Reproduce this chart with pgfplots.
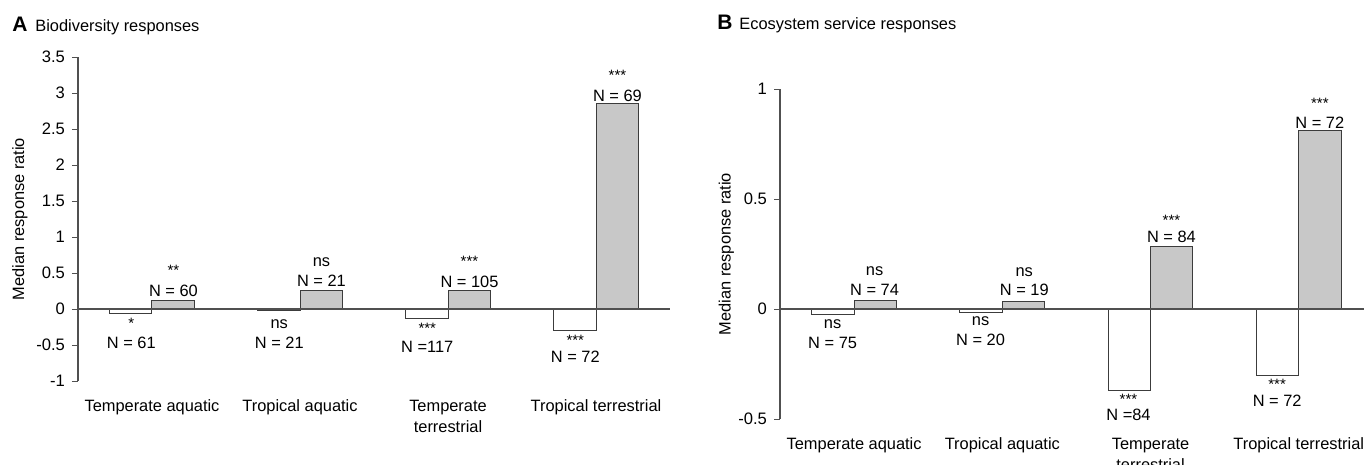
\documentclass[border=0pt]{standalone}
\usepackage{fontspec}
\setmainfont{Liberation Sans}
\usepackage{pgfplots}
\usepackage{pgfplotstable}
\pgfplotsset{compat=1.18}
\definecolor{barg}{RGB}{200,200,200}
\definecolor{edge}{RGB}{60,60,60}
\definecolor{axc}{RGB}{80,80,80}

\pgfplotstableread{
x white gray
0 -0.06 0.12
1 -0.02 0.26
2 -0.13 0.26
3 -0.30 2.85
}\dataA
\pgfplotstableread{
x white gray
0 -0.027 0.04
1 -0.018 0.032
2 -0.37 0.283
3 -0.30 0.81
}\dataB

\tikzset{
 nl/.style={font=\fontsize{8.2}{10}\selectfont, inner sep=0pt},
 st/.style={font=\fontsize{7.5}{9}\selectfont, inner sep=0pt, yshift=-1.5pt},
}

\begin{document}
\begin{tikzpicture}
\useasboundingbox (0pt,0pt) rectangle (682pt,-232.5pt);
\pgfplotsset{
 myaxis/.style={
  scale only axis, clip=false,
  axis y line*=left, axis x line*=bottom,
  x axis line style={draw=none},
  xtick={0,1,2,3},
  xticklabels={Temperate aquatic, Tropical aquatic, {Temperate\\terrestrial}, Tropical terrestrial},
  xtick style={draw=none},
  xticklabel style={align=center, font=\fontsize{8.2}{10.5}\selectfont, anchor=north, yshift=-3pt},
  ytick style={axc, line width=0.5pt}, tick align=outside, major tick length=3pt,
  y axis line style={axc, line width=0.6pt},
  yticklabel style={font=\fontsize{8.3}{10}\selectfont},
  /pgf/number format/assume math mode=true,
  ylabel={Median response ratio},
  ylabel style={font=\fontsize{8.2}{10}\selectfont, anchor=center},
 },
 wbar/.style={ybar, bar width=21.2pt, bar shift=-10.6pt, fill=white, draw=edge, line width=0.5pt},
 gbar/.style={ybar, bar width=21.2pt, bar shift=10.6pt, fill=barg, draw=edge, line width=0.5pt},
}
% titles
\node[anchor=base west, inner sep=0pt, font=\fontsize{10.5}{12}\selectfont\bfseries] at (6pt,-16pt) {A};
\node[anchor=base west, inner sep=0pt, font=\fontsize{8.2}{10}\selectfont] at (17.5pt,-16pt) {Biodiversity responses};
\node[anchor=base west, inner sep=0pt, font=\fontsize{10.5}{12}\selectfont\bfseries] at (358.5pt,-15pt) {B};
\node[anchor=base west, inner sep=0pt, font=\fontsize{8.2}{10}\selectfont] at (369.5pt,-15pt) {Ecosystem service responses};

\begin{axis}[myaxis,
  at={(39pt,-190.5pt)}, anchor=south west, width=296pt, height=162pt,
  xmin=-0.5, xmax=3.5, ymin=-1, ymax=3.5,
  ytick={-1,-0.5,0,0.5,1,1.5,2,2.5,3,3.5},
  yticklabels={-1,-0.5,0,0.5,1,1.5,2,2.5,3,3.5},
  ylabel style={at={(axis description cs:-0.098,0.5)}},
]
\addplot[wbar] table[x=x,y=white]{\dataA};
\addplot[gbar] table[x=x,y=gray]{\dataA};
\draw[axc, line width=0.6pt] (axis cs:-0.5,0) -- (axis cs:3.5,0);
\node[st] at (axis cs:0.145,0.583) {**};
\node[nl] at (axis cs:0.145,0.25) {N = 60};
\node[st] at (axis cs:-0.14,-0.153) {*};
\node[nl] at (axis cs:-0.14,-0.472) {N = 61};
\node[nl] at (axis cs:1.145,0.653) {ns};
\node[nl] at (axis cs:1.145,0.389) {N = 21};
\node[nl] at (axis cs:0.86,-0.208) {ns};
\node[nl] at (axis cs:0.86,-0.472) {N = 21};
\node[st] at (axis cs:2.145,0.708) {***};
\node[nl] at (axis cs:2.145,0.375) {N = 105};
\node[st] at (axis cs:1.86,-0.222) {***};
\node[nl] at (axis cs:1.86,-0.528) {N =117};
\node[st] at (axis cs:3.145,3.282) {***};
\node[nl] at (axis cs:3.145,2.958) {N = 69};
\node[st] at (axis cs:2.86,-0.389) {***};
\node[nl] at (axis cs:2.86,-0.667) {N = 72};
\end{axis}

\begin{axis}[myaxis,
  at={(390pt,-209.5pt)}, anchor=south west, width=292pt, height=165pt,
  xmin=-0.5, xmax=3.44, ymin=-0.5, ymax=1,
  ytick={-0.5,0,0.5,1},
  yticklabels={-0.5,0,0.5,1},
  ylabel style={at={(axis description cs:-0.092,0.5)}},
]
\addplot[wbar] table[x=x,y=white]{\dataB};
\addplot[gbar] table[x=x,y=gray]{\dataB};
\draw[axc, line width=0.6pt] (axis cs:-0.5,0) -- (axis cs:3.44,0);
\node[nl] at (axis cs:0.138,0.17) {ns};
\node[nl] at (axis cs:0.138,0.086) {N = 74};
\node[nl] at (axis cs:-0.145,-0.068) {ns};
\node[nl] at (axis cs:-0.145,-0.155) {N = 75};
\node[nl] at (axis cs:1.148,0.168) {ns};
\node[nl] at (axis cs:1.148,0.086) {N = 19};
\node[nl] at (axis cs:0.853,-0.055) {ns};
\node[nl] at (axis cs:0.853,-0.141) {N = 20};
\node[st] at (axis cs:2.141,0.418) {***};
\node[nl] at (axis cs:2.141,0.327) {N = 84};
\node[st] at (axis cs:1.851,-0.399) {***};
\node[nl] at (axis cs:1.851,-0.482) {N =84};
\node[st] at (axis cs:3.142,0.947) {***};
\node[nl] at (axis cs:3.142,0.847) {N = 72};
\node[st] at (axis cs:2.854,-0.330) {***};
\node[nl] at (axis cs:2.854,-0.417) {N = 72};
\end{axis}
\end{tikzpicture}
\end{document}
